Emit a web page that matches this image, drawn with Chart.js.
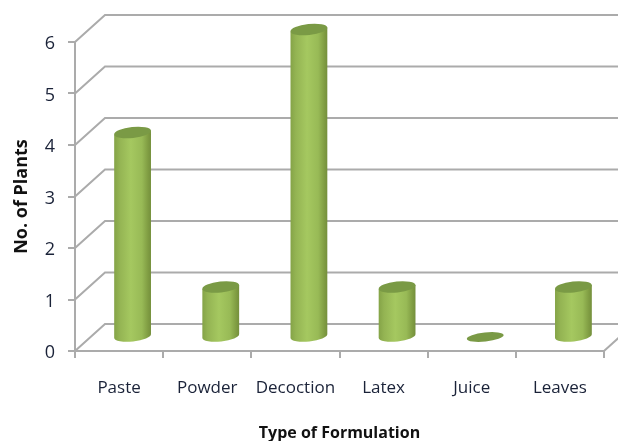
<!DOCTYPE html>
<html>
<head>
<meta charset="utf-8">
<style>html,body{margin:0;padding:0;background:#fff}#w{width:618px;height:441px;position:relative}</style>
<script src="https://cdn.jsdelivr.net/npm/chart.js@4"></script>
</head>
<body>
<div id="w"><canvas id="c" width="618" height="441"></canvas></div>
<script>
const categories = ["Paste","Powder","Decoction","Latex","Juice","Leaves"];
const plantCounts = [4,1,6,1,0,1];
const yTicks = [0,1,2,3,4,5,6];
const DEPTH_X = 30, DEPTH_Y = 27, GRID = "#ababab";

const walls = {
  id:"walls",
  beforeDatasetsDraw(ch){
    const {ctx,scales:{x,y}} = ch;
    ctx.save();
    ctx.strokeStyle = GRID; ctx.lineWidth = 2;
    yTicks.forEach(v=>{
      const py = y.getPixelForValue(v);
      ctx.beginPath();
      ctx.moveTo(x.left,py);
      ctx.lineTo(x.left+DEPTH_X,py-DEPTH_Y);
      ctx.lineTo(ch.width+2,py-DEPTH_Y);
      ctx.stroke();
    });
    const by = y.getPixelForValue(0);
    ctx.beginPath();
    ctx.moveTo(x.right,by);
    ctx.lineTo(x.right+DEPTH_X,by-DEPTH_Y);
    ctx.stroke();
    ctx.restore();
  }
};

const cylinders = {
  id:"cylinders",
  afterDatasetsDraw(ch){
    const {ctx} = ch;
    const meta = ch.getDatasetMeta(0);
    const th = 6*Math.PI/180, ry = 5.5;
    meta.data.forEach((el,i)=>{
      const r = el.width/2, cx = el.x+13.5;
      const top = el.y-12.5, bot = el.base-14;
      const dx = r*Math.cos(th), dy = r*Math.sin(th);
      ctx.save();
      if (plantCounts[i] > 0){
        const g = ctx.createLinearGradient(cx-r,0,cx+r,0);
        g.addColorStop(0,"#84a347");
        g.addColorStop(0.15,"#94b453");
        g.addColorStop(0.45,"#a5c860");
        g.addColorStop(0.75,"#98ba56");
        g.addColorStop(0.92,"#7f9c42");
        g.addColorStop(1,"#748f3c");
        ctx.fillStyle = g;
        ctx.beginPath();
        ctx.moveTo(cx-dx,top+dy);
        ctx.lineTo(cx-dx,bot+dy);
        ctx.ellipse(cx,bot,r,ry,-th,Math.PI,0,true);
        ctx.lineTo(cx+dx,top-dy);
        ctx.closePath();
        ctx.fill();
      }
      ctx.fillStyle = "#7a9a45";
      ctx.beginPath();
      if (plantCounts[i] > 0) ctx.ellipse(cx,top,r,ry,-th,0,Math.PI*2);
      else ctx.ellipse(cx,bot,r,4.5,-th,0,Math.PI*2);
      ctx.fill();
      ctx.restore();
    });
  }
};

new Chart(document.getElementById("c"),{
  type:"bar",
  data:{labels:categories,datasets:[{data:plantCounts,backgroundColor:"rgba(0,0,0,0)",borderWidth:0,barThickness:37}]},
  plugins:[walls,cylinders],
  options:{
    responsive:false,animation:false,
    layout:{padding:{top:42,right:14,left:11,bottom:0}},
    plugins:{legend:{display:false},tooltip:{enabled:false}},
    scales:{
      x:{
        afterFit(s){s.height=90},
        grid:{display:true,drawOnChartArea:false,drawTicks:true,tickLength:7,color:GRID,lineWidth:2,offset:true},
        border:{display:true,color:GRID,width:2},
        ticks:{color:"#1a2238",font:{family:"Open Sans",size:17},padding:20,maxRotation:0,autoSkip:false},
        title:{display:true,text:"Type of Formulation",color:"#111",font:{family:"Open Sans",size:16,weight:"bold"},padding:{top:0,bottom:-2}}
      },
      y:{
        min:0,max:6,
        afterFit(s){s.width=64},
        afterBuildTicks(s){s.ticks=yTicks.map(v=>({value:v}))},
        grid:{display:true,drawOnChartArea:false,drawTicks:true,tickLength:7,color:GRID,lineWidth:2},
        border:{display:true,color:GRID,width:2},
        ticks:{color:"#1a2238",font:{family:"Open Sans",size:18},padding:13,labelOffset:2},
        title:{display:true,text:"No. of Plants",color:"#111",font:{family:"Open Sans",size:18,weight:"bold"},padding:{top:0,bottom:0}}
      }
    }
  }
});
</script>
</body>
</html>
